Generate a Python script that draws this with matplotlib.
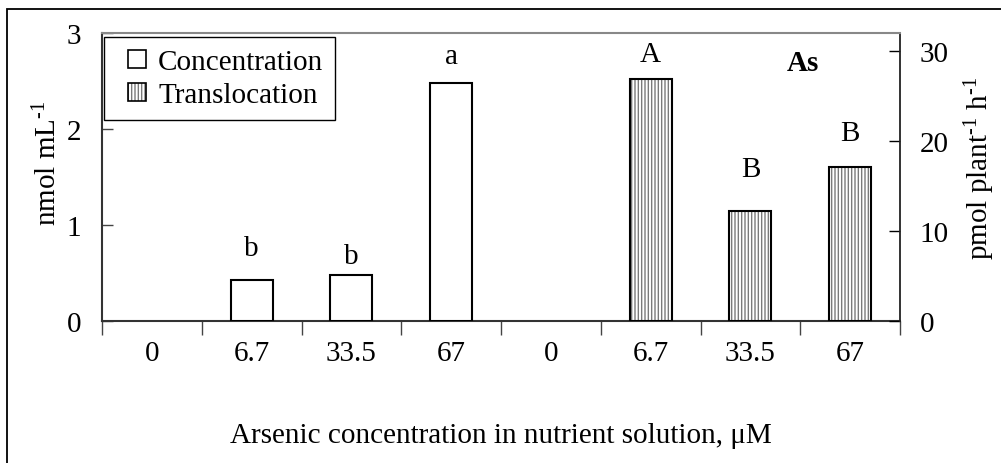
import matplotlib
matplotlib.use("Agg")
import matplotlib.pyplot as plt
from matplotlib.patches import Rectangle, Patch
from matplotlib.legend_handler import HandlerBase
from matplotlib.ticker import FixedLocator, NullFormatter

plt.rcParams['font.family'] = ['Liberation Serif', 'DejaVu Serif']
plt.rcParams['mathtext.fontset'] = 'custom'
plt.rcParams['mathtext.rm'] = 'Liberation Serif'
plt.rcParams['mathtext.it'] = 'Liberation Serif:italic'
plt.rcParams['mathtext.bf'] = 'Liberation Serif:bold'

# ---- data ----
tick_labels = ['0', '6.7', '33.5', '67', '0', '6.7', '33.5', '67']
conc_values = [0.0, 0.43, 0.48, 2.48]          # nmol mL-1 (left axis)
transl_values = [0.0, 26.9, 12.25, 17.1]       # pmol plant-1 h-1 (right axis)
conc_letters = ['', 'b', 'b', 'a']
transl_letters = ['', 'A', 'B', 'B']

# layout (letter centre heights in each axis' units)
conc_letter_y = [0, 0.76, 0.68, 2.76]
transl_letter_y = [0, 29.7, 16.9, 20.9]

FS = 21
W, H = 1001, 464
fig = plt.figure(figsize=(W / 100, H / 100), dpi=100)

# outer frame (cropped at right and bottom)
fig.patches.append(Rectangle((7 / W, -0.05), 1.1, 1 - 10 / H + 0.05,
                             transform=fig.transFigure, fill=False,
                             edgecolor='black', linewidth=1.3, clip_on=False))

ax = fig.add_axes([102 / W, (H - 322) / H, (900 - 102) / W, (322 - 34) / H])
ax2 = ax.twinx()

n = len(tick_labels)
xc = list(range(len(conc_values)))
xt = [len(conc_values) + i for i in range(len(transl_values))]
bw = 0.42

# zero-height bars coincide with the axis line, so they are not drawn
xc_nz = [x for x, v in zip(xc, conc_values) if v > 0]
vc_nz = [v for v in conc_values if v > 0]
xt_nz = [x for x, v in zip(xt, transl_values) if v > 0]
vt_nz = [v for v in transl_values if v > 0]

ax.bar(xc_nz, vc_nz, width=bw, color='white', edgecolor='black', linewidth=1.5, zorder=3)

# translocation bars: hatch layer in grey, then black outline
ax2.bar(xt_nz, vt_nz, width=bw, color='white', edgecolor='#7a7a7a',
        linewidth=0, hatch='|||||', zorder=2)
ax2.bar(xt_nz, vt_nz, width=bw, fill=False, edgecolor='black', linewidth=1.5, zorder=3)

ax.set_xlim(-0.5, n - 0.5)
ax.set_ylim(0, 3)
ax2.set_ylim(0, 32)
ax.set_yticks([0, 1, 2, 3])
ax2.set_yticks([0, 10, 20, 30])

ax.set_xticks(range(n))
ax.set_xticklabels(tick_labels, fontsize=FS)
ax.xaxis.set_minor_locator(FixedLocator([i - 0.5 for i in range(n + 1)]))
ax.xaxis.set_minor_formatter(NullFormatter())
ax.tick_params(axis='x', which='major', length=0, pad=14)
ax.tick_params(axis='x', which='minor', length=10, width=1, direction='out', color='#444444')
ax.tick_params(axis='y', direction='in', length=8, width=1, labelsize=FS, pad=15, color='#444444')
ax2.tick_params(axis='y', direction='in', length=8, width=1, labelsize=FS, pad=14, color='black')

for sp in ['left', 'bottom']:
    ax.spines[sp].set_color('#333333')
    ax.spines[sp].set_linewidth(1.5)
ax2.spines['top'].set_color('#888888')
ax2.spines['top'].set_linewidth(1.5)
ax2.spines['right'].set_color('#222222')
ax2.spines['right'].set_linewidth(1.3)
ax2.spines['left'].set_visible(False)
ax2.spines['bottom'].set_visible(False)
ax.spines['top'].set_visible(False)
ax.spines['right'].set_visible(False)

ax.set_xlabel('Arsenic concentration in nutrient solution, μM', fontsize=FS, labelpad=40)
ax.set_ylabel(r'nmol mL$^{\text{-}1}$', fontsize=FS)
ax2.set_ylabel(r'pmol plant$^{\text{-}1}$ h$^{\text{-}1}$', fontsize=FS)
ax.yaxis.set_label_coords(-0.05, 0.55)
ax2.yaxis.set_label_coords(1.078, 0.535)

for x, lab, y in zip(xc, conc_letters, conc_letter_y):
    if lab:
        ax.text(x, y, lab, ha='center', va='center', fontsize=FS)
for x, lab, y in zip(xt, transl_letters, transl_letter_y):
    if lab:
        ax2.text(x, y, lab, ha='center', va='center', fontsize=FS)

ax2.text(0.878, 0.898, 'As', transform=ax.transAxes, ha='center', va='center',
         fontsize=FS, fontweight='bold')


class SquareHandler(HandlerBase):
    """Small square legend key, right-aligned within the handle area."""
    def create_artists(self, legend, orig_handle, xdescent, ydescent,
                       width, height, fontsize, trans):
        size = 0.62 * fontsize
        x0 = width - size - xdescent
        y0 = (height - size) / 2 - ydescent
        handles = orig_handle if isinstance(orig_handle, tuple) else (orig_handle,)
        arts = []
        for p in handles:
            r = Rectangle((x0, y0), size, size)
            r.update_from(p)
            r.set_transform(trans)
            arts.append(r)
        return arts


h1 = Patch(facecolor='white', edgecolor='black', linewidth=1.2)
h2a = Patch(facecolor='white', edgecolor='#7a7a7a', linewidth=0, hatch='|||||')
h2b = Patch(fill=False, edgecolor='black', linewidth=1.2)
leg = ax2.legend([h1, (h2a, h2b)], ['Concentration', 'Translocation'],
                 handler_map={Patch: SquareHandler(), tuple: SquareHandler()},
                 loc='upper left', bbox_to_anchor=(0.003, 0.986), borderaxespad=0,
                 fontsize=FS, frameon=True, fancybox=False, framealpha=1,
                 edgecolor='black', handlelength=1.04, handleheight=0.7,
                 handletextpad=0.4, labelspacing=0.22, borderpad=0.4)
leg.get_frame().set_linewidth(1.0)
leg.set_zorder(10)

fig.savefig('out.png', dpi=100)
